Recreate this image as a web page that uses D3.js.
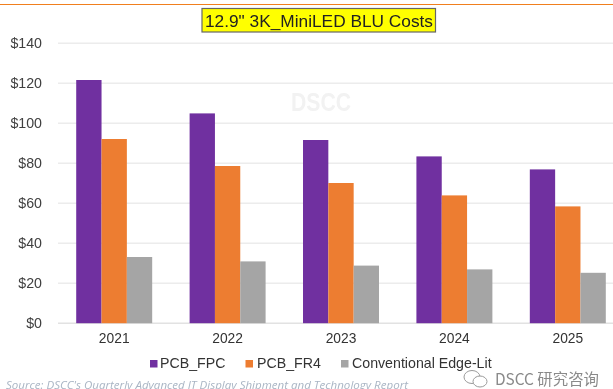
<!DOCTYPE html>
<html><head><meta charset="utf-8">
<script src="https://cdn.jsdelivr.net/npm/d3@7/dist/d3.min.js"></script>
<style>html,body{margin:0;padding:0;background:#fff;overflow:hidden}svg{display:block;filter:blur(.4px)}
text{font-family:"Liberation Sans",Arial,sans-serif}</style></head><body>
<svg id="c" width="613" height="389"></svg>
<script>
const categories=["2021","2022","2023","2024","2025"];
const seriesNames=["PCB_FPC","PCB_FR4","Conventional Edge-Lit"];
const pcbFpc=[121.6,104.9,91.6,83.4,76.9];
const pcbFr4=[92.1,78.6,70.1,63.9,58.4];
const edgeLit=[33.1,30.9,28.8,26.9,25.2];
const yTicks=[0,20,40,60,80,100,120,140];
const colors=["#7030a0","#ed7d31","#a5a5a5"];
const seriesValues=[pcbFpc,pcbFr4,edgeLit];
const svg=d3.select("#c");
const y=d3.scaleLinear().domain([0,140]).range([323.2,43.2]);
const x=d3.scaleBand().domain(categories).range([57.5,624.5]).paddingInner(.33).paddingOuter(.165);
const x1=d3.scaleBand().domain(d3.range(3)).range([0,x.bandwidth()]);
svg.append("line").attr("x1",0).attr("x2",613).attr("y1",4.5).attr("y2",4.5).attr("stroke","#f07f1e").attr("stroke-width",1.2);
svg.append("rect").attr("x",202).attr("y",8.5).attr("width",233.5).attr("height",23.5).attr("fill","#ffff00").attr("stroke","#666").attr("stroke-width",1.2);
svg.append("text").attr("x",319).attr("y",26.5).attr("text-anchor","middle").attr("font-size",17.3).attr("fill","#222").text('12.9" 3K_MiniLED BLU Costs');
svg.append("text").attr("x",291).attr("y",111).attr("font-size",25).attr("font-weight","bold").attr("textLength",60).attr("lengthAdjust","spacingAndGlyphs").attr("fill","#f2f2f2").text("DSCC");
const ya=svg.append("g").attr("transform","translate(58,0)").call(d3.axisLeft(y).tickValues(yTicks).tickFormat(d=>"$"+d).tickSize(0).tickPadding(16));
ya.select(".domain").remove();
ya.selectAll("text").attr("font-size",14.2).attr("fill","#404040");
svg.append("g").selectAll("line").data(yTicks).join("line").attr("x1",58).attr("x2",613).attr("y1",y).attr("y2",y).attr("stroke",d=>d?"#ececec":"#e2e2e2").attr("stroke-width",1.4);
svg.append("g").selectAll("g").data(categories).join("g").attr("transform",d=>`translate(${x(d)},0)`)
 .selectAll("rect").data((d,i)=>seriesValues.map((s,j)=>({j,v:s[i]}))).join("rect")
 .attr("x",d=>x1(d.j)).attr("width",x1.bandwidth()).attr("y",d=>y(d.v)).attr("height",d=>y(0)-y(d.v)).attr("fill",d=>colors[d.j]);
const xa=svg.append("g").attr("transform","translate(0,323.2)").call(d3.axisBottom(x).tickSize(0).tickPadding(10.5));
xa.select(".domain").remove();
xa.selectAll("text").attr("font-size",13.8).attr("fill","#333");
const lx=[150,245.5,341],tx=[160,257,352];
seriesNames.forEach((n,i)=>{
 svg.append("rect").attr("x",lx[i]).attr("y",360).attr("width",7.5).attr("height",7.5).attr("fill",colors[i]);
 svg.append("text").attr("x",tx[i]).attr("y",368).attr("font-size",14.2).attr("fill","#333").text(n);
});
svg.append("text").attr("x",6).attr("y",389).attr("font-size",10.8).attr("font-style","italic").attr("textLength",402).attr("lengthAdjust","spacingAndGlyphs").attr("fill","#a9b5c4").style("font-family",'"Open Sans","Liberation Sans",sans-serif').text("Source: DSCC's Quarterly Advanced IT Display Shipment and Technology Report");
const w=svg.append("g").attr("fill","#fff").attr("stroke","#9a9a9a").attr("stroke-width",1);
w.append("ellipse").attr("cx",472).attr("cy",377).attr("rx",8).attr("ry",6.5);
w.append("ellipse").attr("cx",480).attr("cy",381.5).attr("rx",7).attr("ry",5.5);
svg.append("text").attr("x",495).attr("y",385).attr("font-size",15.4).attr("fill","#8a8a8a").style("font-family",'"Noto Sans CJK SC","Liberation Sans",sans-serif').text("DSCC 研究咨询");
</script></body></html>
